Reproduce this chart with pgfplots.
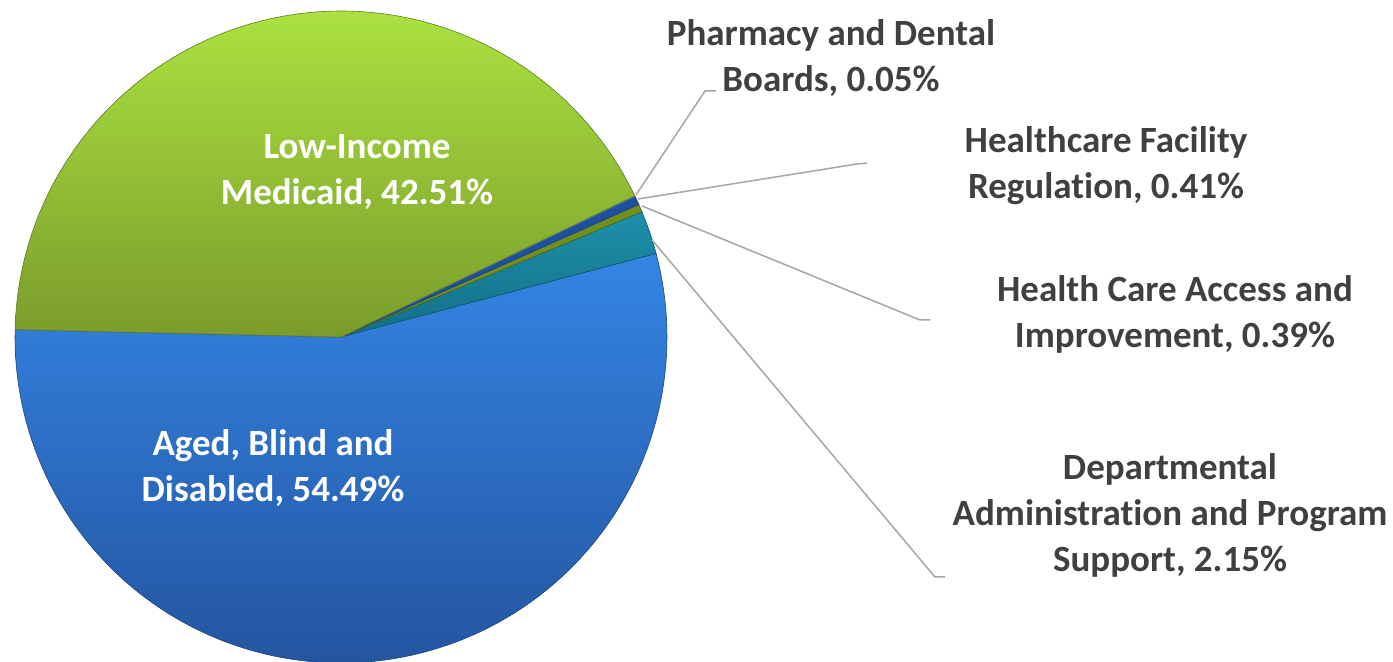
\documentclass[border=0pt]{standalone}
\usepackage{fontspec}
\setmainfont{Carlito}[Ligatures={NoCommon}]
\usepackage{pgfplots}
\pgfplotsset{compat=1.18}
\definecolor{txt}{HTML}{404040}
\definecolor{leader}{HTML}{A6A6A6}
\definecolor{gtop}{HTML}{ABE140}
\definecolor{gbot}{HTML}{7B9C2B}
\definecolor{btop}{HTML}{3485E4}
\definecolor{bbot}{HTML}{2455A0}
\definecolor{ttop}{HTML}{1E90AA}
\definecolor{tbot}{HTML}{136F88}
\definecolor{dblue}{HTML}{1F4FA0}
\definecolor{olive}{HTML}{6F8F1F}
\definecolor{pblue}{HTML}{3A6CB5}
% shares in percent
\def\vAged{54.49}
\def\vDept{2.15}
\def\vAccess{0.39}
\def\vFacil{0.41}
\def\vPharm{0.05}
\def\vLow{42.51}
\begin{document}
\begin{tikzpicture}[lbl/.style={font=\fontsize{18.5}{23}\selectfont\bfseries, align=center, inner sep=0pt}]
\pgfmathsetmacro\aA{-181.3}
\pgfmathsetmacro\aB{\aA+3.6*\vAged}
\pgfmathsetmacro\aC{\aB+3.6*\vDept}
\pgfmathsetmacro\aD{\aC+3.6*\vAccess}
\pgfmathsetmacro\aE{\aD+3.6*\vFacil}
\pgfmathsetmacro\aF{\aE+3.6*\vPharm}
\pgfmathsetmacro\aG{\aF+3.6*\vLow}
\begin{axis}[
  width=696.5pt, height=331pt, scale only axis,
  xmin=0, xmax=1393, ymin=0, ymax=662,
  hide axis, clip=true,
]
\path[draw=none] (axis cs:0,0) rectangle (axis cs:1393,662);
% Aged, Blind and Disabled
\addplot[draw=bbot!80!black, line width=0.3pt, top color=btop, bottom color=bbot,
  domain=\aA:\aB, samples=120, variable=\t]
  ({341+326*cos(\t)}, {325+326*sin(\t)}) -- (341,325) -- cycle;
% Departmental Administration
\addplot[draw=tbot!80!black, line width=0.3pt, top color=ttop, bottom color=tbot,
  domain=\aB:\aC, samples=10, variable=\t]
  ({341+326*cos(\t)}, {325+326*sin(\t)}) -- (341,325) -- cycle;
% Health Care Access
\addplot[draw=olive!70!black, line width=0.3pt, fill=olive,
  domain=\aC:\aD, samples=4, variable=\t]
  ({341+326*cos(\t)}, {325+326*sin(\t)}) -- (341,325) -- cycle;
% Healthcare Facility
\addplot[draw=dblue!80!black, line width=0.3pt, fill=dblue,
  domain=\aD:\aE, samples=4, variable=\t]
  ({341+326*cos(\t)}, {325+326*sin(\t)}) -- (341,325) -- cycle;
% Pharmacy and Dental
\addplot[draw=pblue, line width=0.2pt, fill=pblue,
  domain=\aE:\aF, samples=2, variable=\t]
  ({341+326*cos(\t)}, {325+326*sin(\t)}) -- (341,325) -- cycle;
% Low-Income Medicaid
\addplot[draw=gbot!80!black, line width=0.3pt, top color=gtop, bottom color=gbot,
  domain=\aF:\aG, samples=120, variable=\t]
  ({341+326*cos(\t)}, {325+326*sin(\t)}) -- (341,325) -- cycle;
% leader lines
\addplot[leader, line width=0.75pt] coordinates {(636,467) (705,571) (716,571)};
\addplot[leader, line width=0.75pt] coordinates {(638,463) (857,498) (867,499)};
\addplot[leader, line width=0.75pt] coordinates {(642,456) (920,342) (930,342)};
\addplot[leader, line width=0.75pt] coordinates {(652,422) (935,85) (945,85)};
% labels
\node[lbl, text=white] at (axis cs:357,490) {Low-Income\\Medicaid, 42.51\%};
\node[lbl, text=white] at (axis cs:273,194) {Aged, Blind and\\Disabled, 54.49\%};
\node[lbl, text=txt] at (axis cs:831,604) {Pharmacy and Dental\\Boards, 0.05\%};
\node[lbl, text=txt] at (axis cs:1106,496) {Healthcare Facility\\Regulation, 0.41\%};
\node[lbl, text=txt] at (axis cs:1175,348) {Health Care Access and\\Improvement, 0.39\%};
\node[lbl, text=txt] at (axis cs:1170,147) {Departmental\\Administration and Program\\Support, 2.15\%};
\end{axis}
\end{tikzpicture}
\end{document}
